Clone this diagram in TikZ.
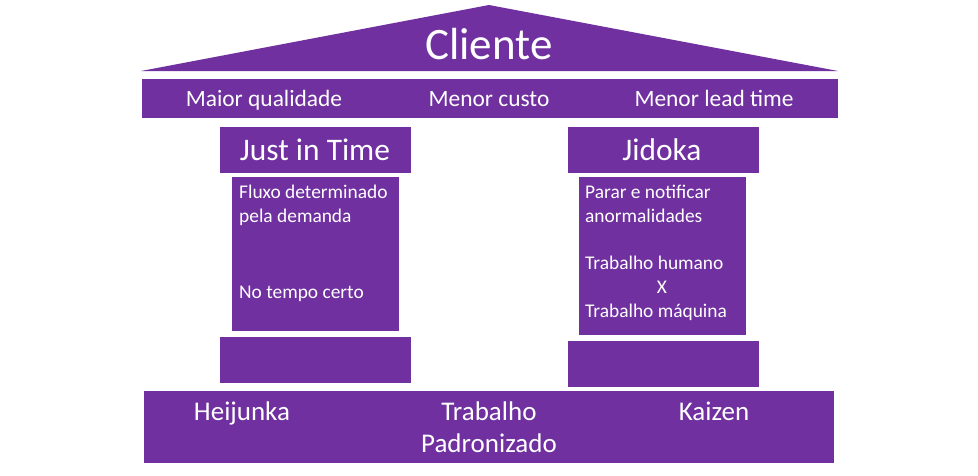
\documentclass[tikz,border=0pt]{standalone}
\usepackage{fontspec}
\setmainfont{Carlito}
\definecolor{leanpurple}{HTML}{7030A0}

\tikzset{
  block/.style={fill=leanpurple, draw=white, line width=1pt},
  txt/.style={text=white, inner sep=0pt, anchor=base},
  roottext/.style={txt, font=\fontsize{45}{54}\selectfont},
  bandtext/.style={txt, font=\fontsize{23.4}{28}\selectfont},
  pillartext/.style={txt, font=\fontsize{31.4}{37}\selectfont},
  bodytext/.style={txt, anchor=base west, align=left, font=\fontsize{19.4}{23.8}\selectfont},
  basetext/.style={txt, align=center, font=\fontsize{27}{32}\selectfont},
}

\begin{document}
\begin{tikzpicture}[x=1pt,y=-1pt]
\useasboundingbox (0,0) rectangle (978,475);
\fill[white] (0,0) rectangle (978,475);

% telhado
\fill[leanpurple] (141,71) -- (489,5) -- (838,71) -- cycle;
\node[roottext] (cliente) at (489,59) {Cliente};

% faixa de resultados
\draw[block] (141,78) rectangle (838,118);
\node[bandtext] (qualidade) at (264,106) {Maior qualidade};
\node[bandtext] (custo) at (489,106) {Menor custo};
\node[bandtext] (leadtime) at (714,106) {Menor lead time};

% pilar esquerdo
\draw[block] (219,126) rectangle (411,173);
\node[pillartext] (jit) at (315,160) {Just in Time};
\draw[block] (231,176) rectangle (399,331);
\node[bodytext] (fluxo) at (239,222) {Fluxo determinado\\pela demanda};
\node[bodytext] (tempo) at (239,298) {No tempo certo};
\draw[block] (219,336) rectangle (411,383);

% pilar direito
\draw[block] (567,126) rectangle (759,173);
\node[pillartext] (jidoka) at (662,160) {Jidoka};
\draw[block] (578,176) rectangle (746,335);
\node[bodytext] (parar) at (585,222) {Parar e notificar\\anormalidades};
\node[bodytext] (trabalho) at (585,317) {Trabalho humano\\\hspace*{3.7em}X\\Trabalho máquina};
\draw[block] (567,340) rectangle (759,387);

% base
\draw[block] (143,390) rectangle (834,463);
\node[basetext] (heijunka) at (242,420) {Heijunka};
\node[basetext] (padrao) at (489,452) {Trabalho\\Padronizado};
\node[basetext] (kaizen) at (714,420) {Kaizen};
\end{tikzpicture}
\end{document}
